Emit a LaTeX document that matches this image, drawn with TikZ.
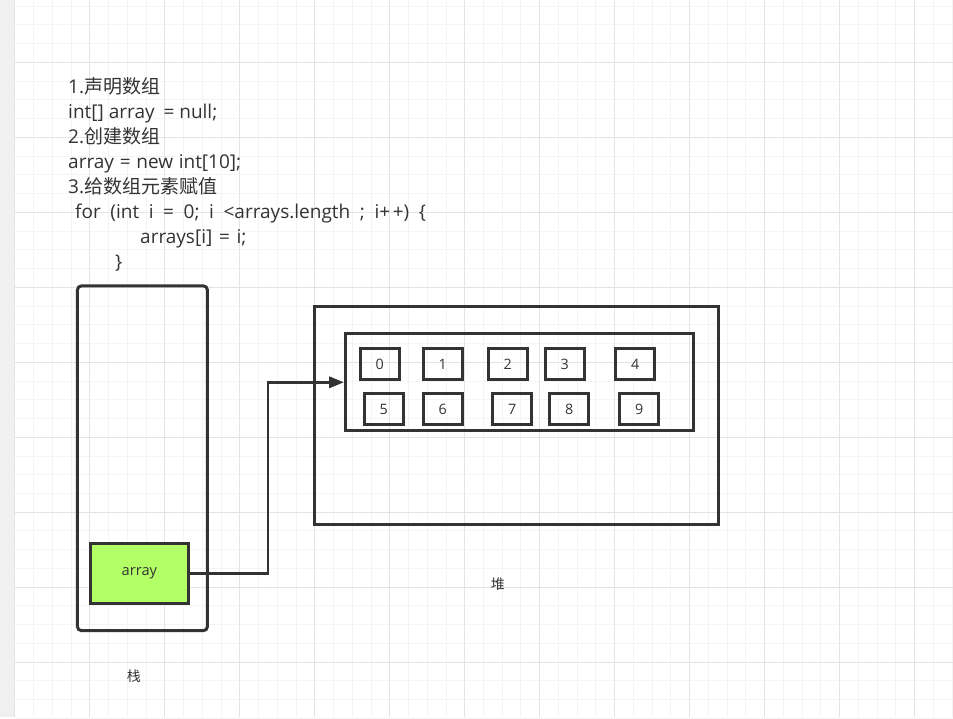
\documentclass[tikz,border=0pt]{standalone}
\usepackage{fontspec}
\setmainfont{Open Sans}
\newfontfamily\cjk{Noto Sans CJK SC}
\usetikzlibrary{arrows.meta,positioning,calc}
\definecolor{ink}{HTML}{333333}
\definecolor{gridmin}{HTML}{F4F4F4}
\definecolor{gridmaj}{HTML}{E4E4E4}
\definecolor{sidebar}{HTML}{F0F0F0}
\definecolor{lime}{HTML}{B3FF66}

\begin{document}
\begin{tikzpicture}[x=0.75pt,y=-0.75pt,
   >={Triangle[length=11pt,width=8.5pt]},
   box/.style={draw=ink,line width=2.25pt,inner sep=0pt},
   cell/.style={box,minimum width=29.25pt,minimum height=23.25pt,font=\fontsize{10.75}{12}\selectfont,text=ink},
   code/.style={anchor=base west,inner sep=0pt,font=\fontsize{14.25}{16}\selectfont,text=ink},
   lbl/.style={inner sep=0pt,font=\fontsize{10.5}{12}\selectfont\cjk,text=ink}]
  % paper and grid
  \fill[white] (0,0) rectangle (953,717);
  \fill[sidebar] (0,0) rectangle (15,717);
  \foreach \i in {0,...,50}
    \draw[gridmin,line width=0.75pt] ({15+18.75*\i},0) -- ({15+18.75*\i},717);
  \foreach \i in {0,...,38}
    \draw[gridmin,line width=0.75pt] (15,{5.75+18.75*\i}) -- (953,{5.75+18.75*\i});
  \foreach \i in {0,...,12}
    \draw[gridmaj,line width=0.75pt] ({15+75*\i},0) -- ({15+75*\i},717);
  \foreach \i in {0,...,8}
    \draw[gridmaj,line width=0.75pt] (15,{62+75*\i}) -- (953,{62+75*\i});
  % code
  \foreach \x/\y/\t [count=\k] in {68/93/{1.{\cjk 声明数组}}, 68/118/{int[] array{\kern3pt} = null;},
      68/143/{2.{\cjk 创建数组}}, 68/168/{\spaceskip=4.3pt array = new int[10];},
      68/193/{3.{\cjk 给数组元素赋值}},
      75/218/{\spaceskip=7.2pt for (int i = 0; i <arrays.length ; i+\kern2pt+) \{},
      140/243/{\spaceskip=5pt arrays[i] = i;},
      115/268/{\}}}
    \node[code] (code\k) at (\x,\y) {\t};
  % stack
  \node[box,rounded corners=3pt,minimum width=97.5pt,minimum height=258.75pt] (stack) at (142.5,458) {};
  \node[box,fill=lime,minimum width=73.5pt,minimum height=45pt,font=\fontsize{11}{13}\selectfont,text=ink] (array) at (139.5,573.5) {array};
  \node[lbl] (stacklbl) at (134,676) {栈};
  % heap
  \node[box,minimum width=303pt,minimum height=163.5pt] (heap) at (516.5,415.5) {};
  \node[box,minimum width=261pt,minimum height=72.75pt] (inner) at (519.5,382) {};
  \foreach \n/\x/\y in {0/380/364, 1/443/364, 2/508/364, 3/565/364, 4/635.5/364,
      5/384/409, 6/443/409, 7/512.5/409, 8/569.5/409, 9/639.5/409}
    \node[cell] (c\n) at (\x,\y) {\n};
  \node[lbl] (heaplbl) at (498,584) {堆};
  % reference
  \coordinate (bend) at (268,480);
  \draw[->,draw=ink,line width=1.9pt] (array.east) -| (bend) |- (inner.west);
\end{tikzpicture}
\end{document}
